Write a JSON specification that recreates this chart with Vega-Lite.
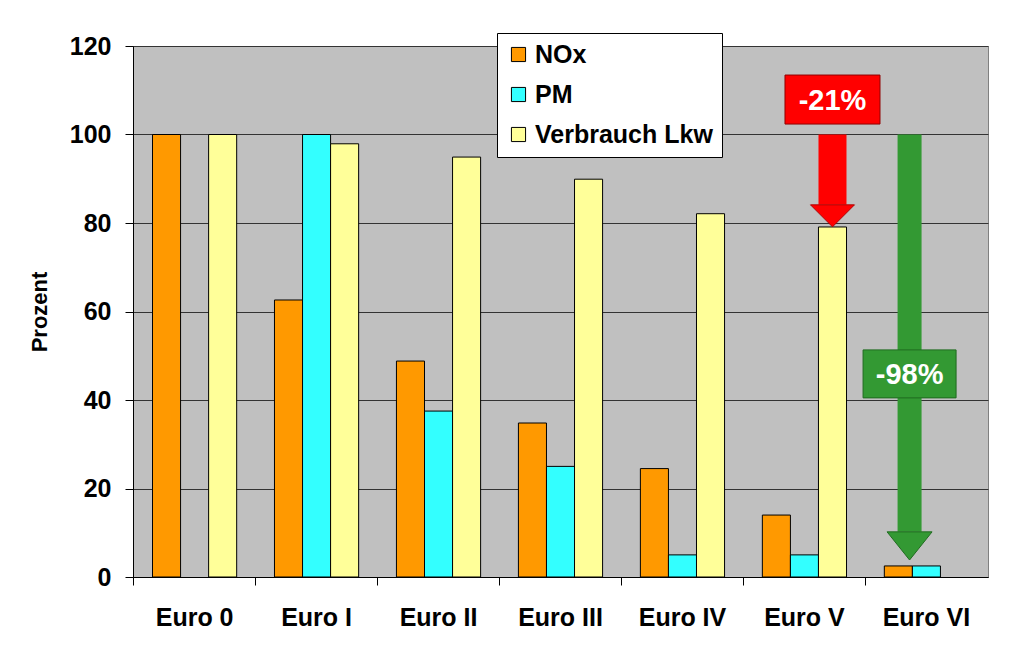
{
  "$schema": "https://vega.github.io/schema/vega-lite/v6.json",
  "autosize": "none",
  "width": 855,
  "height": 531,
  "padding": {"left": 133, "top": 46, "right": 36, "bottom": 88},
  "background": "white",
  "config": {
    "font": "Liberation Sans",
    "view": {"fill": "#C0C0C0", "stroke": "#808080", "strokeWidth": 1},
    "axis": {"labelFont": "Liberation Sans", "titleFont": "Liberation Sans", "labelColor": "#000", "titleColor": "#000"}
  },
  "layer": [
    {
      "data": {"values": [
        {"stage": "Euro 0", "series": "NOx", "value": 100},
        {"stage": "Euro 0", "series": "Verbrauch Lkw", "value": 100},
        {"stage": "Euro I", "series": "NOx", "value": 62.6},
        {"stage": "Euro I", "series": "PM", "value": 100},
        {"stage": "Euro I", "series": "Verbrauch Lkw", "value": 97.9},
        {"stage": "Euro II", "series": "NOx", "value": 48.8},
        {"stage": "Euro II", "series": "PM", "value": 37.5},
        {"stage": "Euro II", "series": "Verbrauch Lkw", "value": 94.9},
        {"stage": "Euro III", "series": "NOx", "value": 34.8},
        {"stage": "Euro III", "series": "PM", "value": 25},
        {"stage": "Euro III", "series": "Verbrauch Lkw", "value": 89.9},
        {"stage": "Euro IV", "series": "NOx", "value": 24.5},
        {"stage": "Euro IV", "series": "PM", "value": 5},
        {"stage": "Euro IV", "series": "Verbrauch Lkw", "value": 82.1},
        {"stage": "Euro V", "series": "NOx", "value": 14},
        {"stage": "Euro V", "series": "PM", "value": 5},
        {"stage": "Euro V", "series": "Verbrauch Lkw", "value": 79.1},
        {"stage": "Euro VI", "series": "NOx", "value": 2.5},
        {"stage": "Euro VI", "series": "PM", "value": 2.5}
      ]},
      "mark": {"type": "bar", "stroke": "#000", "strokeWidth": 1},
      "encoding": {
        "x": {
          "field": "stage", "type": "nominal",
          "scale": {"domain": ["Euro 0", "Euro I", "Euro II", "Euro III", "Euro IV", "Euro V", "Euro VI"], "paddingInner": 0.31, "paddingOuter": 0.16},
          "axis": {
            "title": null, "labelAngle": 0, "labelFontSize": 25, "labelFontWeight": "bold",
            "labelPadding": 20, "tickColor": "#000", "tickSize": 8, "domainColor": "#000",
            "bandPosition": -0.225, "grid": false
          }
        },
        "xOffset": {"field": "series", "type": "nominal", "scale": {"domain": ["NOx", "PM", "Verbrauch Lkw"], "paddingInner": 0, "paddingOuter": 0}},
        "y": {
          "field": "value", "type": "quantitative",
          "scale": {"domain": [0, 120], "nice": false},
          "axis": {
            "title": "Prozent", "titleFontSize": 22, "titleFontWeight": "bold", "titlePadding": 18,
            "values": [0, 20, 40, 60, 80, 100, 120],
            "labelFontSize": 25, "labelFontWeight": "bold", "labelPadding": 14,
            "tickColor": "#000", "tickSize": 8, "domainColor": "#000",
            "grid": true, "gridColor": "#333", "gridOpacity": 1, "gridWidth": 1
          }
        },
        "color": {
          "field": "series", "type": "nominal",
          "scale": {"domain": ["NOx", "PM", "Verbrauch Lkw"], "range": ["#FF9900", "#33FFFF", "#FFFF99"]},
          "legend": {
            "title": null, "orient": "none", "legendX": 364, "legendY": -13,
            "fillColor": "#FFFFFF", "strokeColor": "#000", "padding": 9,
            "symbolType": "square", "symbolSize": 200, "symbolStrokeColor": "#000", "symbolStrokeWidth": 1, "symbolOpacity": 1,
            "labelFontSize": 25, "labelFontWeight": "bold", "labelFont": "Liberation Sans", "labelColor": "#000",
            "labelLimit": 400, "rowPadding": 14, "labelOffset": 4
          }
        }
      }
    },
    {
      "data": {"values": [{"stage": "Euro V", "series": "Verbrauch Lkw", "top": 100, "base": 84.1, "label": "-21%", "labelPos": 107.9}]},
      "layer": [
        {"mark": {"type": "rule", "color": "#FF0000", "strokeWidth": 28, "strokeCap": "butt"},
         "encoding": {"x": {"field": "stage", "type": "nominal"}, "xOffset": {"field": "series", "type": "nominal"}, "y": {"field": "top", "type": "quantitative"}, "y2": {"field": "base"}}},
        {"mark": {"type": "point", "shape": "M-1,0L1,0L0,1Z", "size": 1936, "filled": true, "color": "#FF0000", "opacity": 1, "stroke": "#B00000", "strokeWidth": 1},
         "encoding": {"x": {"field": "stage", "type": "nominal"}, "xOffset": {"field": "series", "type": "nominal"}, "y": {"field": "base", "type": "quantitative"}}},
        {"mark": {"type": "point", "shape": "M-1,-0.516L1,-0.516L1,0.516L-1,0.516Z", "size": 9025, "filled": true, "color": "#FF0000", "opacity": 1, "stroke": "#900000", "strokeWidth": 1},
         "encoding": {"x": {"field": "stage", "type": "nominal"}, "xOffset": {"field": "series", "type": "nominal"}, "y": {"field": "labelPos", "type": "quantitative"}}},
        {"mark": {"type": "text", "color": "#FFFFFF", "fontSize": 29, "fontWeight": "bold", "align": "center", "baseline": "middle", "dy": 1},
         "encoding": {"x": {"field": "stage", "type": "nominal"}, "xOffset": {"field": "series", "type": "nominal"}, "y": {"field": "labelPos", "type": "quantitative"}, "text": {"field": "label"}}}
      ]
    },
    {
      "data": {"values": [{"stage": "Euro VI", "top": 100, "base": 10.2, "label": "-98%", "labelPos": 45.9}]},
      "layer": [
        {"mark": {"type": "rule", "color": "#339933", "strokeWidth": 24, "strokeCap": "butt"},
         "encoding": {"x": {"field": "stage", "type": "nominal", "bandPosition": 0.3}, "y": {"field": "top", "type": "quantitative"}, "y2": {"field": "base"}}},
        {"mark": {"type": "point", "shape": "M-1,0L1,0L0,1.25Z", "size": 2025, "filled": true, "color": "#339933", "opacity": 1, "stroke": "#1F6B1F", "strokeWidth": 1},
         "encoding": {"x": {"field": "stage", "type": "nominal", "bandPosition": 0.3}, "y": {"field": "base", "type": "quantitative"}}},
        {"mark": {"type": "point", "shape": "M-1,-0.516L1,-0.516L1,0.516L-1,0.516Z", "size": 8649, "filled": true, "color": "#339933", "opacity": 1, "stroke": "#1F6B1F", "strokeWidth": 1},
         "encoding": {"x": {"field": "stage", "type": "nominal", "bandPosition": 0.3}, "y": {"field": "labelPos", "type": "quantitative"}}},
        {"mark": {"type": "text", "color": "#FFFFFF", "fontSize": 29, "fontWeight": "bold", "align": "center", "baseline": "middle", "dy": 1},
         "encoding": {"x": {"field": "stage", "type": "nominal", "bandPosition": 0.3}, "y": {"field": "labelPos", "type": "quantitative"}, "text": {"field": "label"}}}
      ]
    }
  ]
}
